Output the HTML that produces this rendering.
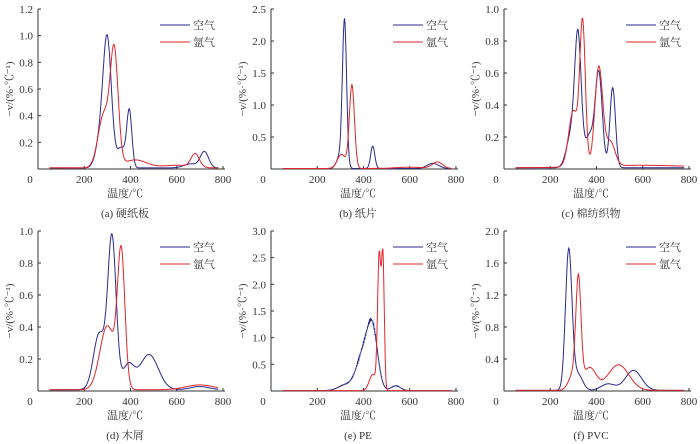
<!DOCTYPE html>
<html><head><meta charset="utf-8"><style>
body{margin:0;background:#fff}
svg{display:block}
text{font-family:"Liberation Serif","Noto Serif CJK SC",serif;fill:#333}
</style></head><body>
<svg id="s" width="700" height="444" viewBox="0 0 700 444" xmlns="http://www.w3.org/2000/svg">
<g id="g0" transform="translate(0,0)">
 <text x="125" y="197" font-size="11" text-anchor="middle">温度/℃</text>
 <text x="125" y="217" font-size="11" text-anchor="middle">(a) 硬纸板</text>
</g>
<g id="g1" transform="translate(233,0)">
 <text x="125" y="197" font-size="11" text-anchor="middle">温度/℃</text>
 <text x="125" y="217" font-size="11" text-anchor="middle">(b) 纸片</text>
</g>
<g id="g2" transform="translate(466,0)">
 <text x="125" y="197" font-size="11" text-anchor="middle">温度/℃</text>
 <text x="125" y="217" font-size="11" text-anchor="middle">(c) 棉纺织物</text>
</g>
<g id="g3" transform="translate(0,222)">
 <text x="125" y="197" font-size="11" text-anchor="middle">温度/℃</text>
 <text x="125" y="217" font-size="11" text-anchor="middle">(d) 木屑</text>
</g>
<g id="g4" transform="translate(233,222)">
 <text x="125" y="197" font-size="11" text-anchor="middle">温度/℃</text>
 <text x="125" y="217" font-size="11" text-anchor="middle">(e) PE</text>
</g>
<g id="g5" transform="translate(466,222)">
 <text x="125" y="197" font-size="11" text-anchor="middle">温度/℃</text>
 <text x="125" y="217" font-size="11" text-anchor="middle">(f) PVC</text>
</g>
</svg>
<script>
var NS="http://www.w3.org/2000/svg";
function el(p,t,a,txt){var e=document.createElementNS(NS,t);for(var k in a)e.setAttribute(k,a[k]);if(txt!=null)e.textContent=txt;p.appendChild(e);return e;}
var P=[
 {max:1.2,step:0.2,air:[[300,0.93,18],[270,0.2,20],[360,0.15,18],[395,0.42,11],[720,0.12,18],[660,0.03,30]],ar:[[330,0.83,17],[285,0.4,25],[420,0.06,50],[680,0.1,18],[600,0.02,60]]},
 {max:2.5,step:0.5,air:[[318,2.25,9],[300,0.2,15],[440,0.35,9],[700,0.08,25]],ar:[[350,1.3,11],[305,0.22,18],[720,0.1,22],[600,0.02,60]]},
 {max:1.0,step:0.2,air:[[320,0.79,14],[290,0.2,20],[370,0.2,20],[410,0.58,15],[470,0.5,12]],ar:[[340,0.88,12],[300,0.35,20],[410,0.62,17],[460,0.15,20],[600,0.015,200]]},
 {max:1.0,step:0.2,air:[[320,0.94,18],[265,0.35,25],[390,0.15,25],[480,0.22,40],[700,0.02,40]],ar:[[360,0.83,16],[300,0.4,32],[700,0.03,60]]},
 {max:3.0,step:0.5,noise:true,air:[[440,1.0,22],[400,0.7,30],[320,0.1,30],[540,0.09,20]],ar:[[468,2.5,7],[484,2.45,6],[440,0.3,15]]},
 {max:2.0,step:0.4,air:[[280,1.75,14],[320,0.2,20],[560,0.25,35],[450,0.08,30]],ar:[[322,1.28,11],[300,0.2,20],[370,0.28,28],[495,0.32,45]]}
];
function f(T,c){var v=0.008;for(var i=0;i<c.length;i++){var d=(T-c[i][0])/c[i][2];v+=c[i][1]*Math.exp(-d*d/2);}return v;}
P.forEach(function(p,i){
 var g=document.getElementById("g"+i);
 var X=function(T){return 38+T*0.2312;},Y=function(v){return 169-v*160/p.max;};
 el(g,"line",{x1:38,y1:9,x2:38,y2:169,stroke:"#333","stroke-width":1});
 el(g,"line",{x1:38,y1:169,x2:225,y2:169,stroke:"#333","stroke-width":1});
 for(var v=p.step;v<=p.max+1e-6;v+=p.step){var y=Y(v);el(g,"line",{x1:38,y1:y,x2:41,y2:y,stroke:"#333"});
  el(g,"text",{x:33,y:y+4,"font-size":11,"text-anchor":"end"},v.toFixed(1));}
 [0,200,400,600,800].forEach(function(T){var x=X(T);if(T>0)el(g,"line",{x1:x,y1:169,x2:x,y2:166,stroke:"#333"});
  el(g,"text",{x:T==0?30:x,y:183,"font-size":11,"text-anchor":"middle"},String(T));});
 el(g,"text",{transform:"translate(13,89) rotate(-90)","font-size":11,"text-anchor":"middle"},"−v/(%·℃⁻¹)");
 [["air","#2a2a8c"],["ar","#e0262a"]].forEach(function(s){
  var d="";for(var T=50;T<=780;T+=2){var v=f(T,p[s[0]]);if(p.noise&&s[0]=="air"){v+=Math.sin(T*1.7)*0.04*Math.min(1,v);}
   d+=(T==50?"M":"L")+X(T).toFixed(1)+","+Y(v).toFixed(1);}
  el(g,"path",{d:d,fill:"none",stroke:s[1],"stroke-width":1});});
 el(g,"line",{x1:160,y1:25,x2:190,y2:25,stroke:"#2a2a8c"});
 el(g,"line",{x1:160,y1:42,x2:190,y2:42,stroke:"#e0262a"});
 el(g,"text",{x:193,y:29,"font-size":11},"空气");
 el(g,"text",{x:193,y:46,"font-size":11},"氩气");
});
</script>
</body></html>
